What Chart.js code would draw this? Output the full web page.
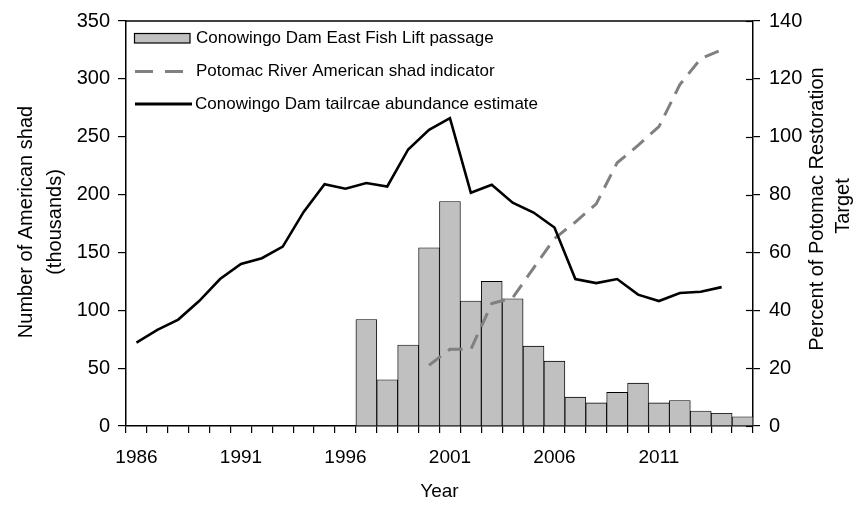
<!DOCTYPE html>
<html>
<head>
<meta charset="utf-8">
<script src="https://cdn.jsdelivr.net/npm/chart.js@4"></script>
<style>
html,body{margin:0;padding:0;background:#fff;}
#wrap{width:863px;height:505px;position:relative;}
</style>
</head>
<body>
<div id="wrap"><canvas id="c" width="863" height="505"></canvas></div>
<script>
const years = [];
for (let y = 1986; y <= 2015; y++) years.push(String(y));

// Conowingo Dam East Fish Lift passage (thousands), 1986-2015
const liftPassage = [null,null,null,null,null,null,null,null,null,null,null,
  92, 40, 70, 154, 194, 108, 125, 110, 69, 56, 25, 20, 29, 37, 20, 22, 13, 11, 8];

// Potomac River American shad indicator (% of restoration target), 1986-2015
const potomacIndicator = [null,null,null,null,null,null,null,null,null,null,null,null,null,null,
  21, 26.5, 26.5, 42.3, 44.3, 54.6, 64.8, 70.5, 76.8, 91, 97, 103.5, 118, 127, 130, null];

// Conowingo Dam tailrace abundance estimate (thousands), 1986-2015
const tailraceEstimate = [72, 83, 92, 108, 127, 140, 145, 155, 185, 209, 205, 210, 207, 239, 256, 266,
  201.5, 208.5, 193, 184.5, 171.5, 127, 123.5, 127, 113.5, 108, 115, 116, 120, null];

const leftTicks = [0, 50, 100, 150, 200, 250, 300, 350];
const rightTicks = [0, 20, 40, 60, 80, 100, 120, 140];
const xLabelEvery = 5;

const legendLabels = [
  'Conowingo Dam East Fish Lift passage',
  'Potomac River American shad indicator',
  'Conowingo Dam tailrcae abundance estimate'
];
const leftTitle = ['Number of American shad', '(thousands)'];
const rightTitle = ['Percent of Potomac Restoration', 'Target'];
const xTitle = 'Year';

const FONT = '"Liberation Sans", Arial, sans-serif';

const decor = {
  id: 'decor',
  afterDraw(chart) {
    const ctx = chart.ctx;
    const a = chart.chartArea;
    const y2 = chart.scales.y2;
    ctx.save();
    // top border
    ctx.strokeStyle = '#000';
    ctx.lineWidth = 1.5;
    ctx.beginPath();
    ctx.moveTo(a.left, a.top);
    ctx.lineTo(a.right, a.top);
    ctx.stroke();
    // inward part of right-axis ticks
    ctx.lineWidth = 1.2;
    rightTicks.forEach(v => {
      const py = Math.round(y2.getPixelForValue(v)) + 0.5;
      ctx.beginPath();
      ctx.moveTo(a.right - 7, py);
      ctx.lineTo(a.right, py);
      ctx.stroke();
    });

    // legend
    ctx.fillStyle = '#c0c0c0';
    ctx.fillRect(134.5, 33.5, 55.5, 9.5);
    ctx.strokeStyle = '#000';
    ctx.lineWidth = 1.2;
    ctx.strokeRect(134.5, 33.5, 55.5, 9.5);

    ctx.strokeStyle = '#808080';
    ctx.lineWidth = 3;
    ctx.setLineDash([18, 12]);
    ctx.beginPath();
    ctx.moveTo(135, 71.5);
    ctx.lineTo(186, 71.5);
    ctx.stroke();
    ctx.setLineDash([]);

    ctx.strokeStyle = '#000';
    ctx.lineWidth = 3;
    ctx.beginPath();
    ctx.moveTo(135, 104);
    ctx.lineTo(192, 104);
    ctx.stroke();

    ctx.fillStyle = '#000';
    ctx.font = '17px ' + FONT;
    ctx.textAlign = 'left';
    ctx.textBaseline = 'middle';
    ctx.fillText(legendLabels[0], 196, 38.5);
    ctx.fillText(legendLabels[1], 196, 71.5);
    ctx.fillText(legendLabels[2], 195, 104);

    // axis titles
    ctx.font = '20px ' + FONT;
    ctx.textAlign = 'center';
    ctx.save();
    ctx.translate(26, 222);
    ctx.rotate(-Math.PI / 2);
    ctx.fillText(leftTitle[0], 0, 0);
    ctx.restore();
    ctx.save();
    ctx.translate(55, 222);
    ctx.rotate(-Math.PI / 2);
    ctx.fillText(leftTitle[1], 0, 0);
    ctx.restore();
    ctx.save();
    ctx.translate(817, 209);
    ctx.rotate(-Math.PI / 2);
    ctx.fillText(rightTitle[0], 0, 0);
    ctx.restore();
    ctx.save();
    ctx.translate(843, 206);
    ctx.rotate(-Math.PI / 2);
    ctx.fillText(rightTitle[1], 0, 0);
    ctx.restore();

    ctx.font = '19px ' + FONT;
    ctx.fillText(xTitle, (a.left + a.right) / 2, 492);
    ctx.restore();
  }
};

new Chart(document.getElementById('c'), {
  type: 'bar',
  data: {
    labels: years,
    datasets: [
      {
        type: 'line',
        label: legendLabels[2],
        data: tailraceEstimate,
        yAxisID: 'y',
        borderColor: '#000',
        borderWidth: 2.6,
        pointRadius: 0,
        tension: 0,
        fill: false,
        order: 1
      },
      {
        type: 'line',
        label: legendLabels[1],
        data: potomacIndicator,
        yAxisID: 'y2',
        borderColor: '#808080',
        borderWidth: 3,
        borderDash: [15, 9],
        pointRadius: 0,
        tension: 0,
        fill: false,
        order: 2
      },
      {
        type: 'bar',
        label: legendLabels[0],
        data: liftPassage,
        yAxisID: 'y',
        backgroundColor: '#c0c0c0',
        borderColor: '#000',
        borderWidth: 0.9,
        barPercentage: 1,
        categoryPercentage: 1,
        order: 3
      }
    ]
  },
  options: {
    responsive: false,
    animation: false,
    devicePixelRatio: 1,
    layout: { padding: { top: 16, left: 0, right: 0, bottom: 0 } },
    plugins: { legend: { display: false }, tooltip: { enabled: false } },
    scales: {
      x: {
        type: 'category',
        offset: true,
        grid: { offset: true, drawOnChartArea: false, drawTicks: true, tickLength: 7, color: '#000', lineWidth: 1.2 },
        border: { display: true, color: '#000', width: 1.5 },
        ticks: {
          autoSkip: false, maxRotation: 0, minRotation: 0, padding: 13, color: '#000',
          font: { size: 19, family: FONT },
          callback: function (val, i) { return (i % xLabelEvery === 0) ? years[i] : ''; }
        },
        afterFit: s => { s.height = 79; }
      },
      y: {
        position: 'left',
        min: 0, max: 350,
        afterBuildTicks: s => { s.ticks = leftTicks.map(v => ({ value: v })); },
        grid: { drawOnChartArea: false, drawTicks: true, tickLength: 8, color: '#000', lineWidth: 1.2 },
        border: { display: true, color: '#000', width: 1.5 },
        ticks: { padding: 8, color: '#000', font: { size: 20, family: FONT } },
        afterFit: s => { s.width = 126; }
      },
      y2: {
        position: 'right',
        min: 0, max: 140,
        afterBuildTicks: s => { s.ticks = rightTicks.map(v => ({ value: v })); },
        grid: { drawOnChartArea: false, drawTicks: true, tickLength: 7, color: '#000', lineWidth: 1.2 },
        border: { display: true, color: '#000', width: 1.5 },
        ticks: { padding: 9, color: '#000', font: { size: 20, family: FONT } },
        afterFit: s => { s.width = 110; }
      }
    }
  },
  plugins: [decor]
});
</script>
</body>
</html>
